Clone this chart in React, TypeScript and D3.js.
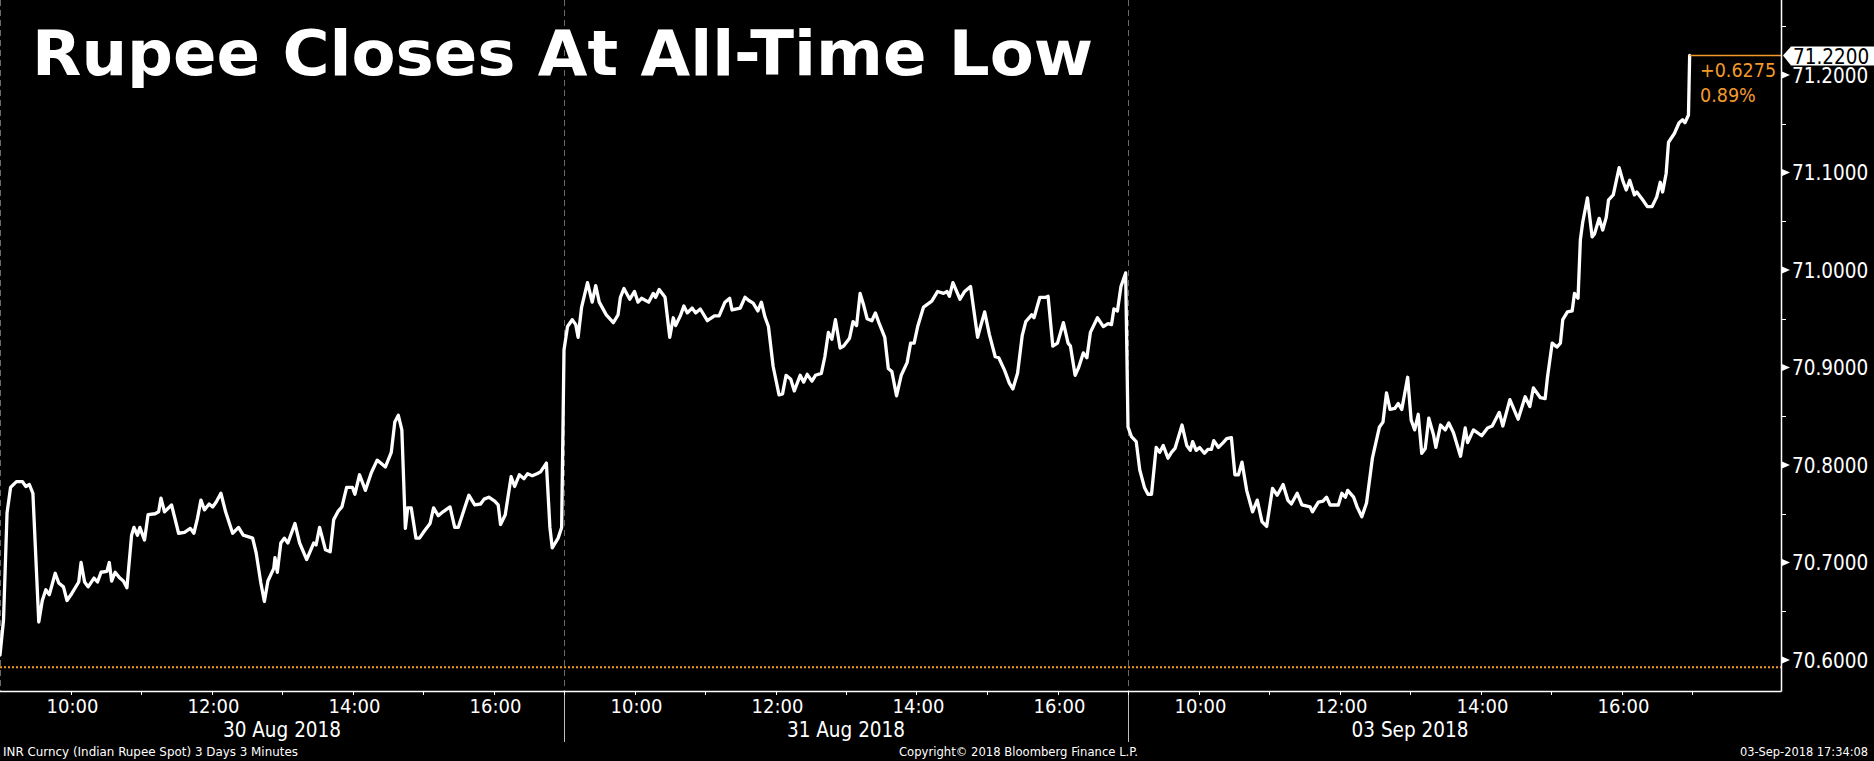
import React from "react";
import * as d3 from "d3";

const DAYS = ["30 Aug 2018", "31 Aug 2018", "03 Sep 2018"];
const HOUR_LABELS = ["10:00", "12:00", "14:00", "16:00"];
const TICK_HOURS = [10, 11, 12, 13, 14, 15, 16, 17];
const Y_TICKS = [70.6, 70.7, 70.8, 70.9, 71.0, 71.1, 71.2];
const Y_MINOR = [70.65, 70.75, 70.85, 70.95, 71.05, 71.15, 71.25];
const PREV_CLOSE = 70.5925;
const LAST = 71.22;
const CHANGE = "+0.6275";
const CHANGE_PCT = "0.89%";

// [minutes after 09:00, INR per USD]
const day1: [number, number][] = [
  [0, 70.605], [3, 70.641], [6, 70.751], [9, 70.777], [14, 70.783], [19, 70.783], [22, 70.778], [25, 70.78], [28, 70.771],
  [33, 70.639], [36, 70.661], [39, 70.672], [42, 70.667], [47, 70.689], [50, 70.679], [54, 70.675], [57, 70.661], [61, 70.668],
  [67, 70.68], [69, 70.7], [72, 70.68], [75, 70.675], [80, 70.684], [83, 70.68], [86, 70.69], [91, 70.691], [93, 70.7],
  [95, 70.681], [98, 70.69], [102, 70.684], [105, 70.681], [108, 70.674], [112, 70.728], [114, 70.736], [117, 70.728],
  [119, 70.736], [123, 70.723], [126, 70.749], [132, 70.75], [135, 70.752], [137, 70.766], [140, 70.752], [146, 70.759],
  [152, 70.73], [157, 70.731], [162, 70.735], [165, 70.73], [168, 70.745], [171, 70.764], [174, 70.754], [178, 70.76],
  [181, 70.757], [184, 70.762], [188, 70.771], [192, 70.752], [198, 70.73], [203, 70.736], [207, 70.728], [215, 70.725],
  [218, 70.71], [222, 70.679], [225, 70.66], [228, 70.681], [233, 70.694], [234, 70.705], [236, 70.69], [239, 70.72],
  [242, 70.725], [245, 70.72], [251, 70.74], [255, 70.72], [261, 70.703], [267, 70.72], [269, 70.718], [272, 70.736],
  [277, 70.713], [281, 70.711], [284, 70.744], [288, 70.753], [291, 70.757], [295, 70.777], [300, 70.777], [302, 70.77],
  [306, 70.79], [311, 70.774], [316, 70.792], [321, 70.805], [324, 70.802], [328, 70.798], [333, 70.813], [336, 70.844],
  [339, 70.851], [342, 70.836], [345, 70.735], [347, 70.756], [350, 70.756], [354, 70.725], [357, 70.725], [361, 70.732],
  [366, 70.74], [369, 70.756], [373, 70.748], [377, 70.752], [383, 70.757], [387, 70.736], [390, 70.736], [399, 70.769],
  [404, 70.759], [409, 70.76], [412, 70.765], [416, 70.767], [421, 70.763], [424, 70.759], [426, 70.739], [430, 70.749],
  [435, 70.788], [438, 70.778], [442, 70.79], [446, 70.786], [449, 70.791], [453, 70.789], [457, 70.791], [460, 70.793],
  [465, 70.802], [468, 70.736], [470, 70.715], [475, 70.725], [478, 70.736],
];

const day2: [number, number][] = [
  [0, 70.918], [3, 70.942], [7, 70.949], [10, 70.944], [12, 70.931], [15, 70.962], [20, 70.987], [24, 70.967], [27, 70.984],
  [30, 70.967], [36, 70.954], [42, 70.946], [46, 70.954], [48, 70.972], [51, 70.981], [56, 70.97], [60, 70.978], [63, 70.967],
  [66, 70.971], [72, 70.967], [76, 70.976], [78, 70.972], [81, 70.98], [86, 70.972], [90, 70.931], [93, 70.951], [95, 70.943],
  [99, 70.953], [102, 70.963], [105, 70.956], [109, 70.961], [112, 70.956], [116, 70.96], [122, 70.948], [128, 70.953],
  [132, 70.953], [137, 70.967], [141, 70.971], [143, 70.959], [150, 70.961], [154, 70.972], [157, 70.969], [161, 70.966],
  [165, 70.958], [168, 70.967], [171, 70.952], [174, 70.942], [178, 70.901], [183, 70.872], [186, 70.873], [189, 70.892],
  [193, 70.888], [196, 70.876], [201, 70.892], [204, 70.885], [207, 70.893], [211, 70.886], [214, 70.892], [219, 70.894],
  [222, 70.911], [225, 70.936], [228, 70.929], [231, 70.949], [235, 70.92], [238, 70.922], [243, 70.93], [246, 70.947],
  [249, 70.943], [252, 70.976], [255, 70.964], [258, 70.95], [262, 70.948], [265, 70.956], [268, 70.946], [273, 70.931],
  [276, 70.899], [279, 70.896], [283, 70.871], [287, 70.892], [292, 70.905], [295, 70.925], [298, 70.925], [301, 70.942],
  [306, 70.962], [313, 70.968], [318, 70.978], [323, 70.976], [326, 70.978], [328, 70.973], [331, 70.987], [337, 70.97],
  [341, 70.978], [346, 70.983], [352, 70.931], [358, 70.957], [362, 70.934], [367, 70.911], [370, 70.91], [375, 70.897],
  [379, 70.884], [382, 70.878], [386, 70.894], [390, 70.933], [393, 70.947], [398, 70.954], [400, 70.951], [405, 70.972],
  [410, 70.972], [412, 70.973], [416, 70.922], [420, 70.925], [425, 70.946], [429, 70.925], [431, 70.922], [435, 70.892],
  [438, 70.9], [442, 70.915], [445, 70.91], [448, 70.936], [454, 70.951], [459, 70.942], [463, 70.945], [466, 70.944],
  [468, 70.96], [471, 70.958], [474, 70.983], [478, 70.997],
];

const day3: [number, number][] = [
  [0, 70.839], [3, 70.829], [7, 70.824], [10, 70.795], [14, 70.777], [17, 70.77], [20, 70.77], [24, 70.818], [27, 70.813],
  [30, 70.82], [34, 70.807], [37, 70.813], [40, 70.817], [46, 70.841], [50, 70.82], [53, 70.815], [55, 70.824], [58, 70.815],
  [61, 70.818], [65, 70.812], [68, 70.816], [71, 70.816], [73, 70.825], [77, 70.818], [81, 70.823], [84, 70.827], [88, 70.828],
  [91, 70.79], [94, 70.79], [97, 70.803], [101, 70.774], [106, 70.752], [110, 70.764], [114, 70.742], [118, 70.737],
  [123, 70.776], [127, 70.769], [132, 70.78], [136, 70.764], [139, 70.76], [144, 70.771], [148, 70.759], [155, 70.757],
  [157, 70.752], [162, 70.762], [166, 70.763], [169, 70.767], [172, 70.759], [179, 70.759], [182, 70.771], [185, 70.767],
  [187, 70.774], [192, 70.767], [195, 70.757], [199, 70.747], [203, 70.761], [208, 70.807], [214, 70.839], [217, 70.844],
  [220, 70.874], [223, 70.857], [227, 70.858], [230, 70.863], [233, 70.857], [238, 70.89], [241, 70.846], [244, 70.836],
  [247, 70.852], [250, 70.812], [253, 70.817], [256, 70.848], [260, 70.831], [262, 70.818], [266, 70.841], [270, 70.836],
  [273, 70.843], [277, 70.833], [283, 70.809], [287, 70.838], [289, 70.823], [294, 70.836], [301, 70.83], [306, 70.838],
  [310, 70.84], [316, 70.854], [319, 70.84], [325, 70.867], [332, 70.847], [338, 70.87], [342, 70.86], [345, 70.879],
  [351, 70.869], [355, 70.868], [357, 70.89], [361, 70.925], [365, 70.921], [368, 70.925], [370, 70.949], [374, 70.957],
  [378, 70.958], [380, 70.976], [383, 70.971], [385, 71.031], [387, 71.049], [391, 71.074], [395, 71.034], [397, 71.037],
  [401, 71.053], [404, 71.041], [407, 71.054], [409, 71.072], [413, 71.077], [418, 71.105], [421, 71.092], [424, 71.082],
  [427, 71.092], [431, 71.077], [433, 71.08], [438, 71.072], [442, 71.065], [446, 71.065], [450, 71.075], [453, 71.09],
  [455, 71.08], [458, 71.099], [460, 71.131], [465, 71.14], [469, 71.151], [472, 71.154], [474, 71.151], [477, 71.159],
  [478, 71.22],
];

const SERIES = [day1, day2, day3];
const DAY_MIN = 480;

const COND = "'DejaVu Sans Condensed', 'DejaVu Sans', sans-serif";
const ORANGE = "#f39a2b";

export default function App() {
  const W = 1874;
  const H = 761;
  const axisX = 1781;
  const axisY = 691;

  const x = d3.scaleLinear().domain([0, DAY_MIN * 3]).range([0, 1692]);
  const y = d3.scaleLinear().domain([70.6, 71.2]).range([660, 75]);

  const pts: [number, number][] = [];
  SERIES.forEach((s, di) => s.forEach(([m, v]) => pts.push([di * DAY_MIN + m, v])));
  const line = d3.line<[number, number]>().x((d) => x(d[0])).y((d) => y(d[1]));
  const lastT = pts[pts.length - 1][0];
  const fmt = d3.format(".4f");

  const dividers = [0, 1, 2].map((d) => x(d * DAY_MIN));

  return (
    <div>
      <style>{`body{margin:0;background:#000;}`}</style>
      <svg width={W} height={H} style={{ display: "block", background: "#000" }}>
        <rect x={0} y={0} width={W} height={H} fill="#000" />
        {dividers.map((dx, i) => (
          <g key={i}>
            <line x1={dx + 0.5} x2={dx + 0.5} y1={0} y2={axisY} stroke="#6a6a6a" strokeWidth={1} strokeDasharray="6,4" />
            {i > 0 && <line x1={dx + 0.5} x2={dx + 0.5} y1={axisY} y2={742} stroke="#bdbdbd" strokeWidth={1} />}
          </g>
        ))}
        <line x1={0} x2={axisX} y1={y(PREV_CLOSE)} y2={y(PREV_CLOSE)} stroke={ORANGE} strokeWidth={2} strokeDasharray="2,2" />
        <path d={line(pts) || ""} fill="none" stroke="#fff" strokeWidth={3.3} strokeLinejoin="round" strokeLinecap="round" />
        <line x1={x(lastT)} x2={axisX} y1={y(LAST)} y2={y(LAST)} stroke={ORANGE} strokeWidth={1.5} />
        <text x={1700} y={77} fill={ORANGE} fontFamily={COND} fontSize={19.5}>{CHANGE}</text>
        <text x={1700} y={102} fill={ORANGE} fontFamily={COND} fontSize={19.5}>{CHANGE_PCT}</text>
        <line x1={axisX + 0.5} x2={axisX + 0.5} y1={0} y2={axisY + 0.5} stroke="#fff" strokeWidth={1.5} />
        <line x1={0} x2={axisX + 0.5} y1={axisY + 0.5} y2={axisY + 0.5} stroke="#fff" strokeWidth={1.5} />
        {Y_MINOR.map((v) => (
          <line key={v} x1={axisX} x2={axisX + 5} y1={Math.round(y(v)) + 0.5} y2={Math.round(y(v)) + 0.5} stroke="#fff" strokeWidth={1} />
        ))}
        {Y_TICKS.map((v) => (
          <g key={v}>
            <path d={`M${axisX + 1},${y(v) - 3.5}L${axisX + 9},${y(v)}L${axisX + 1},${y(v) + 3.5}Z`} fill="#fff" />
            <text x={1792} y={y(v) + 7.5} fill="#fff" fontFamily={COND} fontSize={20.5}>{fmt(v)}</text>
          </g>
        ))}
        <path
          d={`M${axisX + 2},${y(LAST)}L${axisX + 10},${y(LAST) - 9}L${W},${y(LAST) - 9}L${W},${y(LAST) + 10}L${axisX + 10},${y(LAST) + 10}Z`}
          fill="#fff"
        />
        <text x={1793} y={y(LAST) + 8} fill="#000" fontFamily={COND} fontSize={20.5}>{fmt(LAST)}</text>
        {[0, 1, 2].map((d) =>
          TICK_HOURS.map((h) => {
            const tx = Math.round(x(d * DAY_MIN + (h - 9) * 60)) + 0.5;
            return <line key={`${d}-${h}`} x1={tx} x2={tx} y1={axisY} y2={axisY + 4} stroke="#fff" strokeWidth={1} />;
          })
        )}
        {[0, 1, 2].map((d) =>
          HOUR_LABELS.map((lab) => {
            const h = parseInt(lab, 10);
            return (
              <text key={`${d}-${lab}`} x={x(d * DAY_MIN + (h - 9) * 60) + 2} y={713} fill="#fff" fontFamily={COND} fontSize={20} textAnchor="middle">
                {lab}
              </text>
            );
          })
        )}
        {DAYS.map((lab, d) => (
          <text key={lab} x={x(d * DAY_MIN + DAY_MIN / 2)} y={737} fill="#fff" fontFamily={COND} fontSize={20.5} textAnchor="middle">
            {lab}
          </text>
        ))}
        <text x={3} y={756} fill="#fff" fontFamily={COND} fontSize={12.5} textLength={295} lengthAdjust="spacingAndGlyphs">
          INR Curncy (Indian Rupee Spot) 3 Days 3 Minutes
        </text>
        <text x={899} y={756} fill="#fff" fontFamily={COND} fontSize={12.5} textLength={239} lengthAdjust="spacingAndGlyphs">
          Copyright© 2018 Bloomberg Finance L.P.
        </text>
        <text x={1740} y={756} fill="#fff" fontFamily={COND} fontSize={12.5} textLength={128} lengthAdjust="spacingAndGlyphs">
          03-Sep-2018 17:34:08
        </text>
        <text x={32} y={75} fill="#fff" fontFamily={COND} fontWeight="bold" fontSize={62} textLength={1061} lengthAdjust="spacingAndGlyphs">
          Rupee Closes At All-Time Low
        </text>
      </svg>
    </div>
  );
}
